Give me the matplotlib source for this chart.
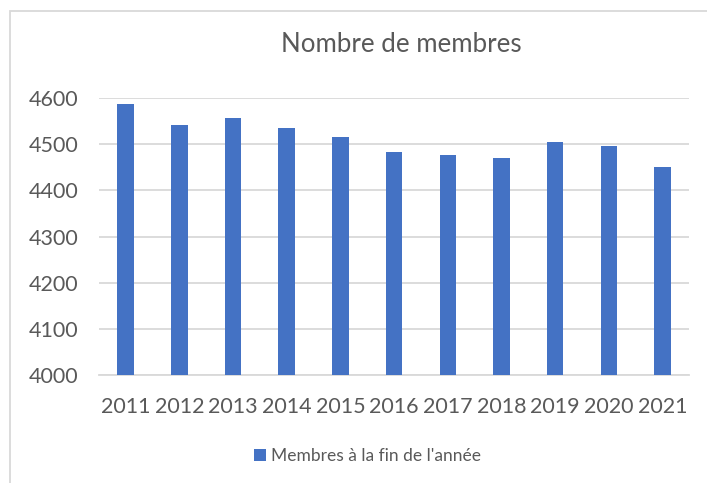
import matplotlib.pyplot as plt
from matplotlib.patches import Rectangle

years = ["2011", "2012", "2013", "2014", "2015", "2016", "2017", "2018", "2019", "2020", "2021"]
members = [4588, 4541, 4557, 4536, 4515, 4483, 4477, 4470, 4506, 4496, 4452]

bar_color = "#4472C4"
grid_color = "#D9D9D9"
text_color = "#595959"

plt.rcParams["font.family"] = ["Lato", "DejaVu Sans"]

fig = plt.figure(figsize=(7.07, 4.83), dpi=100)
ax = fig.add_axes([0.140, 0.2236, 0.835, 0.573])

x = range(len(years))
ax.bar(x, members, width=0.31, color=bar_color, label="Membres à la fin de l'année", zorder=3)

ax.set_ylim(4000, 4600)
ax.set_xlim(-0.5, len(years) - 0.5)
ax.set_yticks(range(4000, 4601, 100))
ax.set_xticks(list(x))
ax.set_xticklabels(years)
ax.grid(axis="y", color=grid_color, linewidth=1.3, zorder=0)
for s in ["top", "right", "left"]:
    ax.spines[s].set_visible(False)
ax.spines["bottom"].set_color(grid_color)
ax.spines["bottom"].set_linewidth(1.3)
ax.tick_params(axis="both", length=0, labelsize=15.5, colors=text_color)
ax.tick_params(axis="y", pad=15)
ax.tick_params(axis="x", pad=16)

fig.text(0.567, 0.908, "Nombre de membres", ha="center", va="center", fontsize=18.6, color=text_color)

fig.legend(loc="center", bbox_to_anchor=(0.52, 0.056), frameon=False, fontsize=12.5,
           labelcolor=text_color, handlelength=0.65, handleheight=0.65, handletextpad=0.3)

# chart frame: only left and top edges fall inside the picture
fig.patches.append(Rectangle((10 / 707, -0.05), 1.0, 1.05 - 11 / 483,
                             transform=fig.transFigure, fill=False,
                             edgecolor=grid_color, linewidth=1.3))

fig.savefig("out.png", dpi=100)
